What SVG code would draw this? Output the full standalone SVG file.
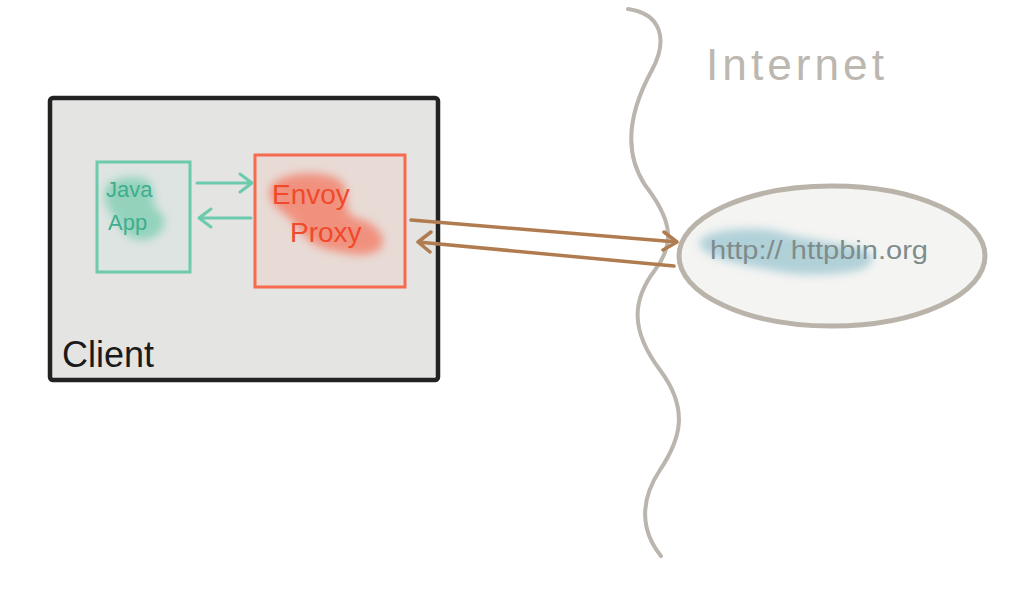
<svg xmlns="http://www.w3.org/2000/svg" width="1024" height="592" viewBox="0 0 1024 592">
<style>
.hand{font-family:"Liberation Sans","DejaVu Sans",sans-serif;}
.teal{stroke:#6ccaad;stroke-width:3;fill:none;stroke-linecap:round;stroke-linejoin:round}
.brown{stroke:#b07c4f;stroke-width:3.5;fill:none;stroke-linecap:round;stroke-linejoin:round}
</style>
<defs>
<filter id="blur" x="-20%" y="-40%" width="140%" height="180%"><feGaussianBlur stdDeviation="4"/></filter>
</defs>
<rect width="1024" height="592" fill="#ffffff"/>
<g id="internet-boundary">
<path d="M628,9 C662,14 668,40 652,70 C630,110 622,150 645,185 C668,215 678,240 655,270 C632,300 630,330 660,370 C690,410 680,440 660,470 C640,500 640,530 661,556" fill="none" stroke="#bab5ad" stroke-width="4" stroke-linecap="round"/>
<text class="hand" x="706" y="80" font-size="44" fill="#bcb7af" letter-spacing="4" textLength="182" lengthAdjust="spacingAndGlyphs">Internet</text>
</g>
<g id="client">
<rect x="50" y="98" width="388" height="282" rx="3" fill="#e4e4e3" stroke="#222222" stroke-width="4.5"/>
<text class="hand" x="62" y="367" font-size="36" fill="#1a1a1a">Client</text>
</g>
<g id="java-app">
<rect x="97" y="162" width="93" height="110" fill="#dde4e2" stroke="#6ccaad" stroke-width="3"/>
<path d="M106,188 C112,176 140,174 150,182 C156,196 150,205 160,212 C170,222 162,240 140,240 C126,238 122,230 116,220 C108,210 102,198 106,188Z" fill="#7ccdb0" opacity="0.75" filter="url(#blur)"/>
<text class="hand" x="106" y="197" font-size="22" fill="#3fae8e">Java</text>
<text class="hand" x="108" y="230" font-size="22" fill="#3fae8e">App</text>
</g>
<g id="envoy-proxy">
<rect x="255" y="155" width="150" height="132" fill="#e8dad5" stroke="#f66b4f" stroke-width="3"/>
<path d="M272,185 C285,170 330,170 342,182 C352,198 340,208 355,218 C380,222 392,245 375,252 C360,258 340,252 330,250 C310,246 300,232 290,218 C275,208 265,198 272,185Z" fill="#f4735a" opacity="0.7" filter="url(#blur)"/>
<text class="hand" x="272" y="204" font-size="28" fill="#f0492c">Envoy</text>
<text class="hand" x="290" y="242" font-size="28" fill="#f0492c">Proxy</text>
</g>
<g id="httpbin">
<ellipse cx="832" cy="256" rx="153" ry="70" fill="#f4f4f2" stroke="#b9b3aa" stroke-width="5"/>
<path d="M702,238 C715,228 760,226 780,232 C800,238 830,242 850,246 C875,250 880,262 860,270 C830,276 800,276 780,272 C760,268 720,262 706,252 C698,246 698,242 702,238Z" fill="#a6cbd4" opacity="0.85" filter="url(#blur)"/>
<text class="hand" x="710" y="259" font-size="26" fill="#7f8c8c" textLength="218" lengthAdjust="spacingAndGlyphs">http:// httpbin.org</text>
</g>
<g id="connectors">
<path class="teal" d="M197,183 L252,183 M240,174 L252,183 L240,192"/>
<path class="teal" d="M251,218 L199,218 M211,209 L199,218 L211,227"/>
<path class="brown" d="M411,220 L677,242 M664,232 L677,242 L663,250"/>
<path class="brown" d="M674,266 L418,242 M431,232 L418,242 L430,252"/>
</g>
</svg>
